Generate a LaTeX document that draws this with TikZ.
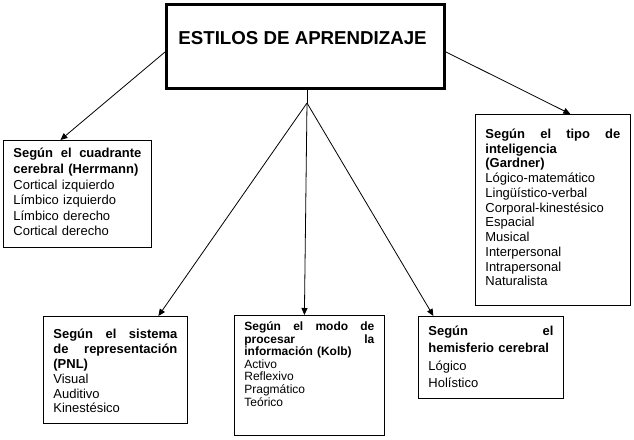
\documentclass[tikz,border=0pt]{standalone}
\usepackage{fontspec}
\setmainfont{Liberation Sans}
\usetikzlibrary{arrows.meta}

\begin{document}
\begin{tikzpicture}[x=1pt,y=-1pt,->,>={Triangle[length=7pt,width=6pt]},line width=0.8pt,
  cuadro/.style={draw,anchor=north west,inner xsep=10pt,inner ysep=0pt,align=left}]
\useasboundingbox (0,0) rectangle (634,439);
%\fill[white] (0,0) rectangle (634,439);
\node[draw,line width=3pt,minimum width=278pt,minimum height=84pt,inner sep=0pt] (estilos) at (305.5,46.5) {};
\node[anchor=base west,inner sep=0pt,font=\fontsize{18.7}{22}\selectfont\bfseries] (titulo) at (178,44) {ESTILOS DE APRENDIZAJE};

\node[cuadro,text width=128pt,text height=17.5pt,text depth=89.5pt,font=\fontsize{13}{15.6}\selectfont] (herrmann) at (3,140)
  {{\bfseries Según\hfill el\hfill cuadrante\\ cerebral (Herrmann)\\}
   Cortical izquierdo\\ Límbico izquierdo\\ Límbico derecho\\ Cortical derecho};
\node[cuadro,text width=135pt,text height=24pt,text depth=167pt,font=\fontsize{13}{14.75}\selectfont] (gardner) at (475,114)
  {{\bfseries Según\hfill el\hfill tipo\hfill de\\ inteligencia\\ (Gardner)\\}
   Lógico-matemático\\ Lingüístico-verbal\\ Corporal-kinestésico\\ Espacial\\ Musical\\
   Interpersonal\\ Intrapersonal\\ Naturalista};
\node[cuadro,text width=124pt,text height=22pt,text depth=85pt,font=\fontsize{13}{14.9}\selectfont] (pnl) at (43,316)
  {{\bfseries Según\hfill el\hfill sistema\\ de\hfill representación\\ (PNL)\\}
   Visual\\ Auditivo\\ Kinestésico};
\node[cuadro,text width=130pt,text height=15pt,text depth=105pt,font=\fontsize{12}{12.6}\selectfont] (kolb) at (234,315)
  {{\bfseries Según\hfill el\hfill modo\hfill de\\ procesar\hfill la\\ información (Kolb)\\}
   Activo\\ Reflexivo\\ Pragmático\\ Teórico};
\node[cuadro,text width=125pt,text height=19pt,text depth=63pt,font=\fontsize{13}{17.5}\selectfont] (hemisferio) at (418,316)
  {{\bfseries Según\hfill el\\ hemisferio cerebral\\}
   Lógico\\ Holístico};

% flechas
\coordinate (abanico) at (307,103);
\draw[-] (abanico |- estilos.south) -- (abanico);
\path ([yshift=-5.5pt]estilos.west) edge ([xshift=-17pt]herrmann.north)
      ([yshift=-5.5pt]estilos.east) edge ([xshift=17.5pt]gardner.north);
\path (abanico) edge ([xshift=43pt]pnl.north)
                edge ([xshift=-5pt]kolb.north)
                edge ([xshift=-57.5pt]hemisferio.north);
\end{tikzpicture}
\end{document}
